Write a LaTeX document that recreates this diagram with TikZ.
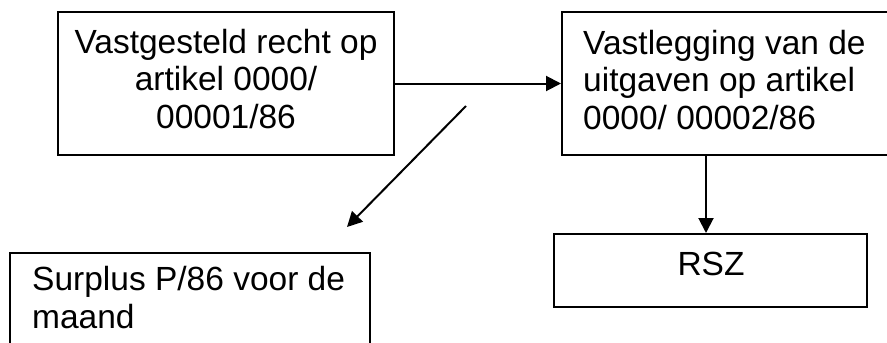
\documentclass[tikz,border=0pt]{standalone}
\usepackage{fontspec}
\setmainfont{Liberation Sans}
\usetikzlibrary{arrows.meta}
\begin{document}
\begin{tikzpicture}[x=1pt,y=-1pt,
  box/.style={draw, line width=2pt, inner sep=0pt},
  txt/.style={inner sep=0pt, font=\fontsize{33.5}{37.5}\selectfont},
  arr/.style={line width=2pt, -{Triangle[length=15pt,width=15pt]}}]
\useasboundingbox (0,0) rectangle (887,343);
% boxes
\node[box, minimum width=336pt, minimum height=143pt] (a) at (226,83.5) {};
\node[box, minimum width=338pt, minimum height=143pt] (b) at (731,83.5) {};
\node[box, minimum width=313pt, minimum height=73pt] (rsz) at (710.5,270.5) {};
\node[box, minimum width=360pt, minimum height=117pt] (s) at (190,311.5) {};
% texts (base anchor = baseline of last line)
\node[txt, anchor=base, align=center] (at) at (226,128) {Vastgesteld recht op\\artikel 0000/\\00001/86};
\node[txt, anchor=base west, align=left] (bt) at (583,129) {Vastlegging van de\\uitgaven op artikel\\0000/ 00002/86};
\node[txt, anchor=base] (rt) at (711,275) {RSZ};
\node[txt, anchor=base west, align=left] (st) at (32,328) {Surplus P/86 voor de\\maand};
% connectors
\draw[arr] (a.east) -- (b.west);
\coordinate (bx) at (706,0);
\draw[arr] (b.south -| bx) -- (rsz.north -| bx);
\coordinate (d1) at (466,106);
\coordinate (d2) at (347,227);
\draw[arr] (d1) -- (d2);
\end{tikzpicture}
\end{document}
